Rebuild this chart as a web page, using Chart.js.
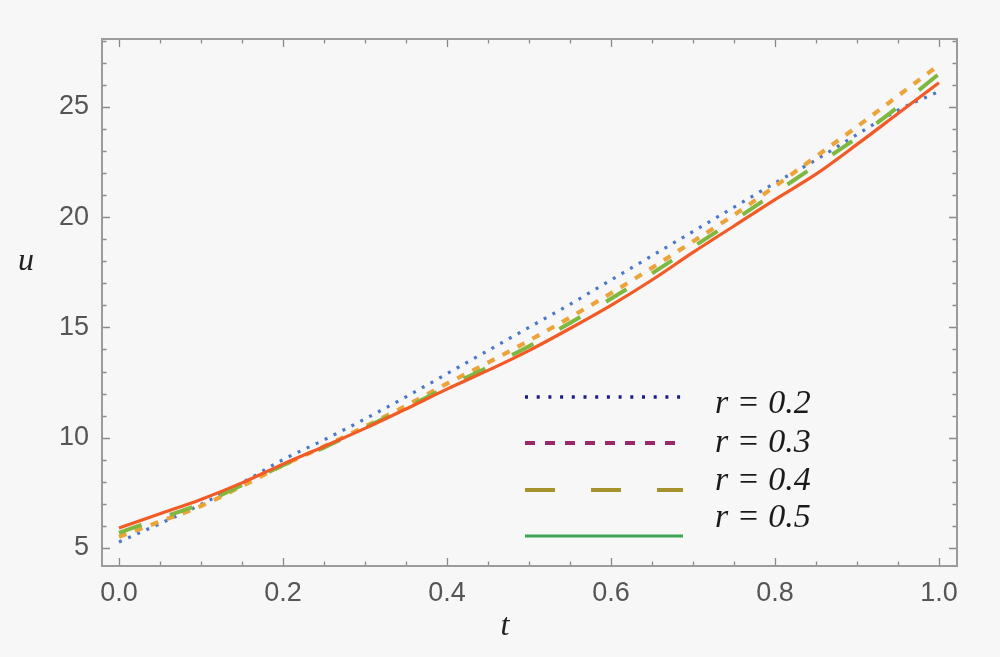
<!DOCTYPE html>
<html><head><meta charset="utf-8">
<script src="https://cdn.jsdelivr.net/npm/chart.js@4.4.1/dist/chart.umd.min.js"></script>
<style>html,body{margin:0;padding:0;background:#f7f7f7;}#wrap{width:1000px;height:657px;position:relative;}</style>
</head><body><div id="wrap"><canvas id="c" width="1000" height="657"></canvas></div>
<script>
// ---- data ----
const tValues = [0,0.05,0.1,0.15,0.2,0.25,0.3,0.35,0.4,0.45,0.5,0.55,0.6,0.65,0.7,0.75,0.8,0.85,0.9,0.95,1.0];
const uR02 = [5.27,6.1,6.97,7.95,9.0,9.9,10.85,11.85,12.9,13.95,15.0,16.05,17.15,18.25,19.35,20.45,21.55,22.6,23.75,24.85,25.7];
const uR03 = [5.5,6.2,6.9,7.8,8.75,9.6,10.5,11.45,12.45,13.4,14.4,15.45,16.55,17.7,18.9,20.1,21.4,22.75,24.1,25.5,26.9];
const uR04 = [5.68,6.35,7.0,7.85,8.75,9.55,10.45,11.35,12.3,13.2,14.15,15.2,16.3,17.45,18.65,19.85,21.1,22.35,23.6,25.0,26.5];
const uR05 = [5.9,6.55,7.2,7.95,8.8,9.6,10.42,11.3,12.2,13.05,13.95,14.95,16.0,17.15,18.4,19.6,20.8,21.95,23.3,24.7,26.1];
const seriesLabels = ['r = 0.2','r = 0.3','r = 0.4','r = 0.5'];
const xTickValues = [0,0.2,0.4,0.6,0.8,1.0];
const yTickValues = [5,10,15,20,25];

const pts = arr => arr.map((v,i)=>({x:tValues[i], y:v}));

const frameStyle = '#9b9b9b';
const legendStyles = [
  {color:'#1c1c8a', dash:[3,8.7], width:3.5},
  {color:'#9b2868', dash:[10,10], width:4},
  {color:'#a5922c', dash:[30,36], width:4},
  {color:'#3da85a', dash:[], width:3}
];

const decor = {
  id:'decor',
  beforeDraw(chart){
    const ctx = chart.ctx;
    ctx.save(); ctx.fillStyle = '#f7f7f7'; ctx.fillRect(0,0,chart.width,chart.height); ctx.restore();
  },
  afterDraw(chart){
    const ctx = chart.ctx, a = chart.chartArea, xs = chart.scales.x, ys = chart.scales.y;
    ctx.save();
    // ticks (inward, all four sides)
    ctx.strokeStyle = '#8a8a8a'; ctx.lineWidth = 1.3;
    const eps = 1e-9;
    for (let v = 0; v <= xs.max + eps; v += 0.05) {
      const major = Math.abs(v/0.2 - Math.round(v/0.2)) < 1e-6;
      const L = major ? 8 : 4.5;
      const px = Math.round(xs.getPixelForValue(v)) + 0.5;
      ctx.beginPath(); ctx.moveTo(px, a.bottom); ctx.lineTo(px, a.bottom - L);
      ctx.moveTo(px, a.top); ctx.lineTo(px, a.top + L); ctx.stroke();
    }
    for (let v = Math.ceil(ys.min); v <= ys.max + eps; v += 1) {
      const major = v % 5 === 0;
      const L = major ? 8 : 4.5;
      const py = Math.round(ys.getPixelForValue(v)) + 0.5;
      ctx.beginPath(); ctx.moveTo(a.left, py); ctx.lineTo(a.left + L, py);
      ctx.moveTo(a.right, py); ctx.lineTo(a.right - L, py); ctx.stroke();
    }
    // frame
    ctx.strokeStyle = frameStyle; ctx.lineWidth = 2;
    ctx.strokeRect(a.left, a.top, a.right - a.left, a.bottom - a.top);
    // axis titles
    ctx.fillStyle = '#222';
    ctx.font = 'italic 32px "Liberation Serif", "DejaVu Serif", serif';
    ctx.textAlign = 'center'; ctx.textBaseline = 'alphabetic';
    ctx.fillText('u', 26, 270);
    ctx.fillText('t', 505, 635);
    // legend
    const lx0 = a.left + 423, lx1 = a.left + 581;
    const rowY = [397, 443, 490, 536];
    const textBase = [413, 452, 490, 527];
    legendStyles.forEach((s,i)=>{
      ctx.strokeStyle = s.color; ctx.lineWidth = s.width; ctx.setLineDash(s.dash);
      ctx.beginPath(); ctx.moveTo(lx0, rowY[i]); ctx.lineTo(lx1, rowY[i]); ctx.stroke();
    });
    ctx.setLineDash([]);
    ctx.font = 'italic 34px "Liberation Serif", "DejaVu Serif", serif';
    ctx.textAlign = 'left'; ctx.fillStyle = '#1a1a1a';
    seriesLabels.forEach((s,i)=>{ ctx.fillText(s, a.left + 613, textBase[i]); });
    ctx.restore();
  }
};

new Chart(document.getElementById('c'), {
  type:'line',
  data:{ datasets:[
    {label:seriesLabels[0], data:pts(uR02), borderColor:'#4a78c8', borderWidth:3.2, borderDash:[3,7], order:4},
    {label:seriesLabels[1], data:pts(uR03), borderColor:'#eca43a', borderWidth:4.2, borderDash:[8,9], order:3},
    {label:seriesLabels[2], data:pts(uR04), borderColor:'#7fb83e', borderWidth:4, borderDash:[24,30], order:2},
    {label:seriesLabels[3], data:pts(uR05), borderColor:'#f25a26', borderWidth:3.2, order:1}
  ]},
  options:{
    responsive:false, animation:false, devicePixelRatio:1,
    layout:{padding:{top:39,right:43,left:0,bottom:0}},
    elements:{point:{radius:0}, line:{tension:0.4, cubicInterpolationMode:'monotone', fill:false}},
    plugins:{legend:{display:false}, tooltip:{enabled:false}},
    scales:{
      x:{type:'linear', min:-0.0207, max:1.022,
         afterFit(s){ s.height = 91; },
         afterBuildTicks(s){ s.ticks = xTickValues.map(v=>({value:v})); },
         grid:{display:false, drawTicks:false}, border:{display:false},
         ticks:{padding:11, color:'#555', font:{family:'"Liberation Sans", Arial, sans-serif', size:27}, maxRotation:0,
                callback:v=>Number(v).toFixed(1)}},
      y:{type:'linear', min:4.18, max:28.08,
         afterFit(s){ s.width = 102; },
         afterBuildTicks(s){ s.ticks = yTickValues.map(v=>({value:v})); },
         grid:{display:false, drawTicks:false}, border:{display:false},
         ticks:{padding:13, color:'#555', font:{family:'"Liberation Sans", Arial, sans-serif', size:27},
                callback:v=>String(v)}}
    }
  },
  plugins:[decor]
});
</script></body></html>
